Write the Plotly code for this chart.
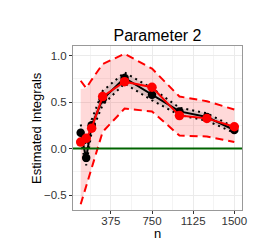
import plotly.graph_objects as go

n = [100, 150, 200, 300, 500, 750, 1000, 1250, 1500]

black_est = [0.17, -0.10, 0.25, 0.53, 0.76, 0.58, 0.40, 0.34, 0.20]
black_upper = [0.26, 0.00, 0.31, 0.62, 0.82, 0.65, 0.44, 0.38, 0.23]
black_lower = [0.08, -0.18, 0.18, 0.47, 0.70, 0.52, 0.36, 0.30, 0.17]

red_est = [0.07, 0.11, 0.22, 0.56, 0.72, 0.66, 0.355, 0.325, 0.235]
red_upper = [0.73, 0.65, 0.74, 0.91, 1.02, 0.86, 0.56, 0.51, 0.42]
red_lower = [-0.60, -0.40, -0.21, 0.18, 0.43, 0.40, 0.14, 0.13, 0.07]

fill_upper = [0.64, 0.65, 0.74, 0.91, 1.02, 0.86, 0.56, 0.51, 0.42]
fill_lower = [-0.60, -0.40, -0.21, 0.18, 0.43, 0.40, 0.14, 0.13, 0.07]

x_ticks = [375, 750, 1125, 1500]
y_ticks = [-0.5, 0.0, 0.5, 1.0]

fig = go.Figure()

# pink band
fig.add_trace(go.Scatter(x=n, y=fill_upper, mode="lines", line=dict(width=0),
                         showlegend=False, hoverinfo="skip"))
fig.add_trace(go.Scatter(x=n, y=fill_lower, mode="lines", line=dict(width=0),
                         fill="tonexty", fillcolor="rgba(255,0,0,0.15)",
                         showlegend=False, hoverinfo="skip"))
# grey band around black
fig.add_trace(go.Scatter(x=n, y=black_upper, mode="lines", line=dict(width=0),
                         showlegend=False, hoverinfo="skip"))
fig.add_trace(go.Scatter(x=n, y=black_lower, mode="lines", line=dict(width=0),
                         fill="tonexty", fillcolor="rgba(120,120,120,0.25)",
                         showlegend=False, hoverinfo="skip"))

# zero line
fig.add_hline(y=0, line=dict(color="#006400", width=2), layer="above")

# red dashed bounds
for yy in (red_upper, red_lower):
    fig.add_trace(go.Scatter(x=n, y=yy, mode="lines",
                             line=dict(color="#ff0000", width=2, dash="8px,5px"),
                             showlegend=False))
# black dotted bounds
for yy in (black_upper, black_lower):
    fig.add_trace(go.Scatter(x=n, y=yy, mode="lines",
                             line=dict(color="black", width=2, dash="2px,4px"),
                             showlegend=False))

fig.add_trace(go.Scatter(x=n, y=black_est, mode="lines+markers",
                         line=dict(color="black", width=2),
                         marker=dict(color="black", size=8.5), showlegend=False))
fig.add_trace(go.Scatter(x=n, y=red_est, mode="lines+markers",
                         line=dict(color="#ff0000", width=2),
                         marker=dict(color="#ff0000", size=9.5), showlegend=False))

L, R, T, B = 65, 32, 38, 50
W, H = 266, 252
pw, ph = W - L - R, H - T - B

grid = "#ebebeb"
fig.update_layout(
    width=W, height=H,
    margin=dict(l=L, r=R, t=T, b=B),
    paper_bgcolor="white", plot_bgcolor="white",
    font=dict(family="Liberation Sans, Arial, sans-serif", color="black"),
    title=dict(text="Parameter 2", x=(L + pw / 2) / W, xanchor="center",
               y=1 - 27 / H, yanchor="middle", font=dict(size=16, color="black")),
    annotations=[
        dict(text="Estimated Integrals", textangle=-90, xref="paper", yref="paper",
             x=(28 - L) / pw, y=0.5, xanchor="center", yanchor="middle",
             showarrow=False, font=dict(size=13, color="black")),
        dict(text="n", xref="paper", yref="paper",
             x=0.5, y=(H - B - 226) / ph, xanchor="center", yanchor="middle",
             showarrow=False, font=dict(size=13, color="black")),
    ],
)
fig.update_xaxes(
    range=[30, 1570], tickvals=x_ticks, ticktext=[str(v) for v in x_ticks],
    showgrid=True, gridcolor=grid, gridwidth=1,
    minor=dict(tickvals=[187.5, 562.5, 937.5, 1312.5], showgrid=True, gridcolor="#f4f4f4", gridwidth=0.6),
    ticks="outside", ticklen=3, tickcolor="#333333",
    ticklabelstandoff=-3,
    tickfont=dict(size=11.5, color="#333333"),
    showline=True, linecolor="#999999", linewidth=1, mirror=True,
    zeroline=False,
)
fig.update_yaxes(
    range=[-0.661, 1.104], tickvals=y_ticks, ticktext=["\u22120.5", "0.0", "0.5", "1.0"],
    showgrid=True, gridcolor=grid, gridwidth=1,
    minor=dict(tickvals=[-0.25, 0.25, 0.75], showgrid=True, gridcolor="#f4f4f4", gridwidth=0.6),
    ticks="outside", ticklen=3, tickcolor="#333333",
    tickfont=dict(size=11.5, color="#333333"),
    showline=True, linecolor="#999999", linewidth=1, mirror=True,
    zeroline=False,
)

fig.write_html("out.html")
